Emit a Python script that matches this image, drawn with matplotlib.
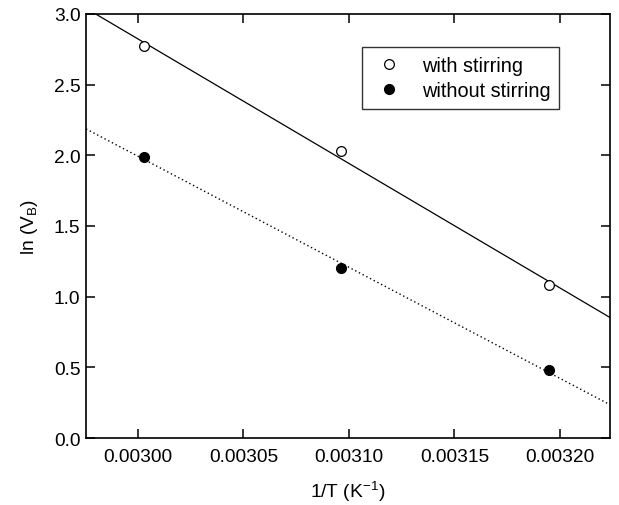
import numpy as np
import matplotlib
matplotlib.use("Agg")
import matplotlib.pyplot as plt
from matplotlib.ticker import FormatStrFormatter, MultipleLocator

plt.rcParams['font.family'] = ['Liberation Sans', 'DejaVu Sans']
plt.rcParams['mathtext.default'] = 'regular'

# data
inv_T = [0.003003, 0.003096, 0.003195]
ln_vb_stirring = [2.77, 2.03, 1.08]
ln_vb_no_stirring = [1.99, 1.20, 0.48]

xlim = (0.0029754, 0.0032237)
ylim = (0.0, 3.0)

fig = plt.figure(figsize=(6.19, 5.06), dpi=100)
ax = fig.add_axes([0.139, 0.1324, 0.8465, 0.838])

xx = np.array(xlim)
p1 = np.polyfit(inv_T, ln_vb_stirring, 1)
p2 = np.polyfit(inv_T, ln_vb_no_stirring, 1)
ax.plot(xx, np.polyval(p1, xx), color='black', lw=0.9)
ax.plot(xx, np.polyval(p2, xx), color='black', lw=1.0, linestyle=(0, (1, 2)))

ax.plot(inv_T, ln_vb_stirring, 'o', mfc='white', mec='black', mew=0.9, ms=7,
        linestyle='none', label='with stirring')
ax.plot(inv_T, ln_vb_no_stirring, 'o', mfc='black', mec='black', ms=7,
        linestyle='none', label='without stirring')

ax.set_xlim(*xlim)
ax.set_ylim(*ylim)
ax.xaxis.set_major_locator(MultipleLocator(0.00005))
ax.yaxis.set_major_locator(MultipleLocator(0.5))
ax.xaxis.set_major_formatter(FormatStrFormatter('%.5f'))
ax.yaxis.set_major_formatter(FormatStrFormatter('%.1f'))
ax.tick_params(direction='in', top=True, right=True, length=6.5, width=1.1,
               labelsize=13.8)
ax.tick_params(axis='x', pad=7)
ax.tick_params(axis='y', pad=4)
for s in ax.spines.values():
    s.set_linewidth(1.2)

ax.set_xlabel(r'1/T (K$^{-1}$)', fontsize=13.8, labelpad=10)
ax.set_ylabel(r'ln (V$_{B}$)', fontsize=13.8, labelpad=10)

leg = ax.legend(loc='upper left', bbox_to_anchor=(0.527, 0.922), fontsize=14.3,
                frameon=True, fancybox=False, edgecolor='black',
                borderaxespad=0, handletextpad=0.75, borderpad=0.45,
                labelspacing=0.3, handlelength=1.8)
leg.get_frame().set_linewidth(1.0)

fig.savefig('out.png', dpi=100)
